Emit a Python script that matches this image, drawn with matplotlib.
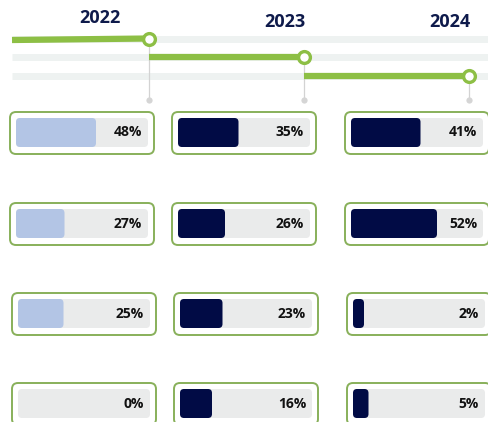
import matplotlib.pyplot as plt
from matplotlib.patches import FancyBboxPatch

# data
years = ["2022", "2023", "2024"]
vals_2022 = [48, 27, 25, 0]
vals_2023 = [35, 26, 23, 16]
vals_2024 = [41, 52, 2, 5]
all_vals = [vals_2022, vals_2023, vals_2024]
fill_colors = ["#b3c5e5", "#010b45", "#010b45"]

# layout (pixel units, y down)
col_x = [10, 172, 345]
row_y = [112, 203, 293, 383]
row_dx = [0, 0, 2, 2]
card_w, card_h = 144, 42
pad = 6
track_w, track_h = 132, 29
min_w, px_per_pct = 8, 1.5   # bar length scale

node_x = [149, 304, 469]
rail_y = [38.5, 57, 76]
year_pos = [(100, 18), (285, 22), (450, 22)]

green = "#8dbf45"
card_edge = "#88b05a"
navy_txt = "#0e1a4b"
font = "Open Sans"

fig = plt.figure(figsize=(4.89, 4.22), dpi=100)
ax = fig.add_axes([0, 0, 1, 1])
ax.set_xlim(0, 489)
ax.set_ylim(422, 0)
ax.axis("off")

# --- timeline ---
for y in rail_y:
    ax.plot([12, 489], [y, y], color="#eef2f1", lw=5, solid_capstyle="butt", zorder=1)

starts = [12, node_x[0], node_x[1]]
for i in range(3):
    y0 = rail_y[i] + (1.5 if i == 0 else 0)
    ax.plot([starts[i], node_x[i]], [y0, rail_y[i]], color=green, lw=4.5,
            solid_capstyle="butt", zorder=2)
    # connector down to dot
    ax.plot([node_x[i], node_x[i]], [rail_y[i], 100], color="#d3d3d3", lw=0.9, zorder=1.5)
    ax.plot(node_x[i], 100, "o", ms=4.5, color="#d5d5d5", mec="none", zorder=1.5)
    ax.plot(node_x[i], rail_y[i], "o", ms=8.5, mfc="white", mec=green, mew=2.4, zorder=3)
    ax.text(year_pos[i][0], year_pos[i][1], years[i], ha="center", va="center",
            fontsize=13, fontweight="bold", color=navy_txt, family=font)

# --- cards ---
for c in range(3):
    for r in range(4):
        x0 = col_x[c] + row_dx[r]
        y0 = row_y[r]
        card = FancyBboxPatch((x0, y0), card_w, card_h,
                              boxstyle="round,pad=0,rounding_size=6",
                              fc="white", ec=card_edge, lw=1.4, zorder=2)
        ax.add_patch(card)
        tx, ty = x0 + pad, y0 + pad
        track = FancyBboxPatch((tx, ty), track_w, track_h,
                               boxstyle="round,pad=0,rounding_size=4",
                               fc="#eaebeb", ec="none", zorder=3)
        ax.add_patch(track)
        v = all_vals[c][r]
        if v > 0:
            w = min_w + v * px_per_pct
            bar = FancyBboxPatch((tx, ty), w, track_h,
                                 boxstyle="round,pad=0,rounding_size=4",
                                 fc=fill_colors[c], ec="none", zorder=4)
            ax.add_patch(bar)
        ax.text(tx + track_w - 6, ty + track_h / 2, f"{v}%", ha="right", va="center",
                fontsize=10, fontweight="bold", color="#111111", family=font, zorder=5)

fig.savefig("out.png", dpi=100)
